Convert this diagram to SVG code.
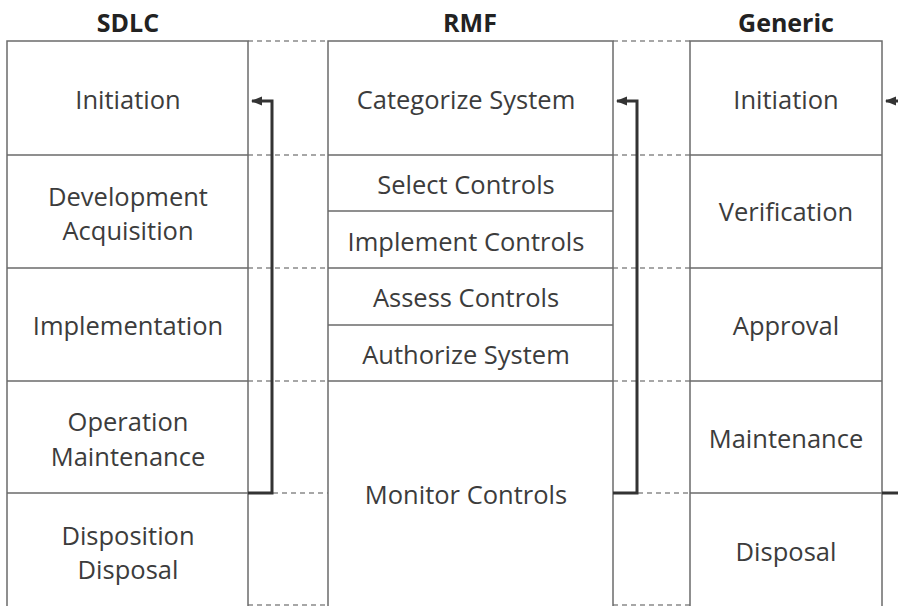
<svg xmlns="http://www.w3.org/2000/svg" width="898" height="606" viewBox="0 0 898 606">
  <defs>
    <style>
      .box { fill: #fff; stroke: #6b6b6b; stroke-width: 1.5; }
      .sep { stroke: #6b6b6b; stroke-width: 1.5; }
      .dash { stroke: #8a8a8a; stroke-width: 1.5; stroke-dasharray: 5 4; fill: none; }
      .lbl { font-family: "Open Sans", "Noto Sans", sans-serif; font-size: 25.5px; fill: #3c3c3c; text-anchor: middle; dominant-baseline: central; }
      .hdr { font-family: "Open Sans", "Noto Sans", sans-serif; font-size: 25px; font-weight: bold; fill: #222; text-anchor: middle; }
      .flow { stroke: #333; stroke-width: 3; fill: none; }
    </style>
    <marker id="arrow" markerWidth="12" markerHeight="12" refX="10" refY="6" orient="auto" markerUnits="userSpaceOnUse">
      <path d="M0,1.5 L11,6 L0,10.5 Z" fill="#333"/>
    </marker>
  </defs>

  <!-- column headings -->
  <text class="hdr" x="128" y="32">SDLC</text>
  <text class="hdr" x="470" y="32">RMF</text>
  <text class="hdr" x="786" y="32">Generic</text>

  <!-- dashed alignment guides between columns -->
  <g id="guides">
    <path class="dash" d="M248,41 H328 M248,155 H328 M248,268 H328 M248,381 H328 M273,493 H328 M248,605 H328"/>
    <path class="dash" d="M613,41 H690 M613,155 H690 M613,268 H690 M613,381 H690 M638,493 H690 M613,605 H690"/>
  </g>

  <!-- SDLC column -->
  <g id="sdlc">
    <rect class="box" x="7" y="41" width="241" height="570"/>
    <path class="sep" d="M7,155 H248 M7,268 H248 M7,381 H248 M7,493 H248"/>
    <g id="sdlc-initiation"><text class="lbl" x="128" y="99">Initiation</text></g>
    <g id="sdlc-development"><text class="lbl" x="128" y="196">Development</text><text class="lbl" x="128" y="230">Acquisition</text></g>
    <g id="sdlc-implementation"><text class="lbl" x="128" y="325">Implementation</text></g>
    <g id="sdlc-operation"><text class="lbl" x="128" y="421">Operation</text><text class="lbl" x="128" y="456">Maintenance</text></g>
    <g id="sdlc-disposition"><text class="lbl" x="128" y="535">Disposition</text><text class="lbl" x="128" y="569">Disposal</text></g>
  </g>

  <!-- RMF column -->
  <g id="rmf">
    <rect class="box" x="328" y="41" width="285" height="570"/>
    <path class="sep" d="M328,155 H613 M328,211 H613 M328,268 H613 M328,325 H613 M328,381 H613"/>
    <g id="rmf-categorize"><text class="lbl" x="466" y="99">Categorize System</text></g>
    <g id="rmf-select"><text class="lbl" x="466" y="184">Select Controls</text></g>
    <g id="rmf-implement"><text class="lbl" x="466" y="241">Implement Controls</text></g>
    <g id="rmf-assess"><text class="lbl" x="466" y="297">Assess Controls</text></g>
    <g id="rmf-authorize"><text class="lbl" x="466" y="354">Authorize System</text></g>
    <g id="rmf-monitor"><text class="lbl" x="466" y="494">Monitor Controls</text></g>
  </g>

  <!-- Generic column -->
  <g id="generic">
    <rect class="box" x="690" y="41" width="192" height="570"/>
    <path class="sep" d="M690,155 H882 M690,268 H882 M690,381 H882 M690,493 H882"/>
    <g id="gen-initiation"><text class="lbl" x="786" y="99">Initiation</text></g>
    <g id="gen-verification"><text class="lbl" x="786" y="211">Verification</text></g>
    <g id="gen-approval"><text class="lbl" x="786" y="325">Approval</text></g>
    <g id="gen-maintenance"><text class="lbl" x="786" y="438">Maintenance</text></g>
    <g id="gen-disposal"><text class="lbl" x="786" y="551">Disposal</text></g>
  </g>

  <!-- feedback loops -->
  <g id="connectors">
    <path class="flow" d="M248,493 H272 V101 H252" marker-end="url(#arrow)"/>
    <path class="flow" d="M613,493 H637 V101 H617" marker-end="url(#arrow)"/>
    <path class="flow" d="M882,493 H898"/>
    <path class="flow" d="M898,101 H886" marker-end="url(#arrow)"/>
  </g>
</svg>
